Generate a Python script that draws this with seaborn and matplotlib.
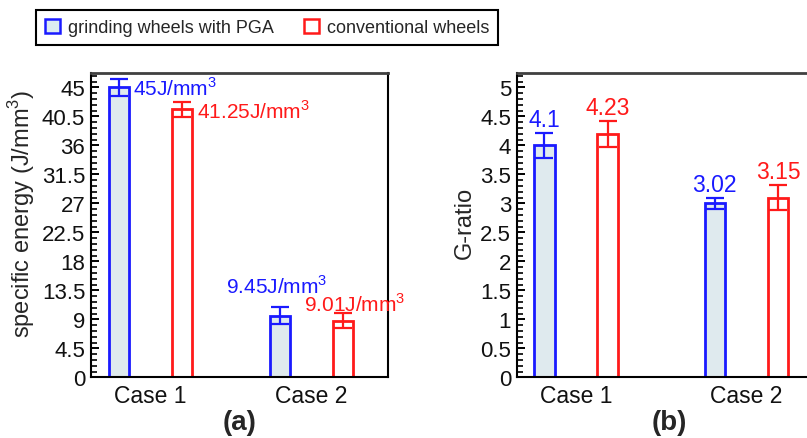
import matplotlib
matplotlib.use("Agg")
import matplotlib.pyplot as plt
from matplotlib.patches import Patch
from matplotlib.ticker import AutoMinorLocator
import seaborn as sns
import pandas as pd

sns.set_theme(style="white")
plt.rcParams['font.family'] = ['Liberation Sans', 'DejaVu Sans']
plt.rcParams['mathtext.fontset'] = 'custom'
plt.rcParams['mathtext.rm'] = 'Liberation Sans'

# ---------------- data ----------------
cases = ["Case 1", "Case 2"]
series = ["grinding wheels with PGA", "conventional wheels"]

energy_pga = [45.0, 9.55]
energy_conv = [41.6, 8.8]
energy_err_pga = [1.3, 1.35]
energy_err_conv = [1.2, 1.2]
energy_labels_pga = ["45J/mm$^3$", "9.45J/mm$^3$"]
energy_labels_conv = ["41.25J/mm$^3$", "9.01J/mm$^3$"]

gratio_pga = [4.0, 3.0]
gratio_conv = [4.2, 3.1]
gratio_err_pga = [0.22, 0.1]
gratio_err_conv = [0.22, 0.22]
gratio_labels_pga = ["4.1", "3.02"]
gratio_labels_conv = ["4.23", "3.15"]

energy_ticks = [0, 4.5, 9, 13.5, 18, 22.5, 27, 31.5, 36, 40.5, 45]
gratio_ticks = [0, 0.5, 1, 1.5, 2, 2.5, 3, 3.5, 4, 4.5, 5]

BLUE = "#1a1aff"
RED = "#ff1a1a"
FILL_PGA = "#dcebf1"
FILL_CONV = "#ffffff"
edge_colors = [BLUE, RED]
fills = {series[0]: FILL_PGA, series[1]: FILL_CONV}

df_e = pd.DataFrame({"case": cases * 2,
                     "series": [series[0]] * 2 + [series[1]] * 2,
                     "value": energy_pga + energy_conv})
df_g = pd.DataFrame({"case": cases * 2,
                     "series": [series[0]] * 2 + [series[1]] * 2,
                     "value": gratio_pga + gratio_conv})

W, H = 807, 439
fig = plt.figure(figsize=(W / 100, H / 100), dpi=100)
axL = fig.add_axes([90.7 / W, (H - 378.3) / H, 297 / W, 304.3 / H])
axR = fig.add_axes([516.7 / W, (H - 378.3) / H, 300 / W, 304.3 / H])


def draw(ax, df, errs, width, gap):
    sns.barplot(data=df, x="case", y="value", hue="series", order=cases,
                hue_order=series, palette=fills, width=width, gap=gap,
                errorbar=None, legend=False, ax=ax, linewidth=2)
    for cont, col, err in zip(ax.containers, edge_colors, errs):
        xs, hs = [], []
        for p in cont:
            p.set_edgecolor(col)
            p.set_linewidth(2)
            xs.append(p.get_x() + p.get_width() / 2)
            hs.append(p.get_height())
        ax.errorbar(xs, hs, yerr=err, fmt="none", ecolor=col,
                    elinewidth=1.6, capsize=6.5, capthick=1.6, zorder=5)


def style(ax, ticks, ymax, ylabel, label_xy):
    ax.set_ylim(0, ymax)
    ax.set_yticks(ticks)
    ax.set_yticklabels([f"{t:g}" for t in ticks])
    ax.yaxis.set_minor_locator(AutoMinorLocator(5))
    ax.tick_params(axis="y", which="major", direction="in", length=6,
                   width=1.4, color="black", labelsize=16, pad=4, left=True)
    ax.tick_params(axis="y", which="minor", direction="in", length=4,
                   width=1.2, color="black", left=True)
    ax.tick_params(axis="x", length=0, labelsize=16.5, pad=5)
    ax.set_xlabel("")
    ax.set_ylabel(ylabel, fontsize=17)
    ax.yaxis.set_label_coords(*label_xy)
    for s in ax.spines.values():
        s.set_color("black")
        s.set_linewidth(1.5)
        s.set_visible(True)
    ax.spines["top"].set_color("#404040")
    ax.spines["top"].set_linewidth(2)
    for lab in ax.get_xticklabels() + ax.get_yticklabels():
        lab.set_color("#111111")


# ---- panel (a) ----
draw(axL, df_e, [energy_err_pga, energy_err_conv], 0.784, 0.68)
axL.set_xlim(-0.373, 1.475)
style(axL, energy_ticks, 47.25, "specific energy (J/mm$^3$)", (-0.181, 0.5416))

pL, cL = axL.containers[0], axL.containers[1]
p = pL[0]
axL.annotate(energy_labels_pga[0], xy=(p.get_x() + p.get_width(), p.get_height()),
             xytext=(4, -7), textcoords="offset pixels", ha="left", va="baseline",
             color=BLUE, fontsize=15)
p = cL[0]
axL.annotate(energy_labels_conv[0], xy=(p.get_x() + p.get_width(), p.get_height()),
             xytext=(5, -8), textcoords="offset pixels", ha="left", va="baseline",
             color=RED, fontsize=15)
p = pL[1]
axL.annotate(energy_labels_pga[1],
             xy=(p.get_x() + p.get_width() / 2, p.get_height() + energy_err_pga[1]),
             xytext=(-3, 14), textcoords="offset pixels", ha="center", va="baseline",
             color=BLUE, fontsize=15)
p = cL[1]
axL.annotate(energy_labels_conv[1],
             xy=(p.get_x() + p.get_width() / 2, p.get_height() + energy_err_conv[1]),
             xytext=(-39, 2), textcoords="offset pixels", ha="left", va="baseline",
             color=RED, fontsize=15, annotation_clip=False)

# ---- panel (b) ----
draw(axR, df_g, [gratio_err_pga, gratio_err_conv], 0.742, 0.676)
axR.set_xlim(-0.348, 1.413)
style(axR, gratio_ticks, 5.25, "G-ratio", (-0.135, 0.510))

for cont, labels, errs, col in zip(axR.containers,
                                   [gratio_labels_pga, gratio_labels_conv],
                                   [gratio_err_pga, gratio_err_conv], edge_colors):
    for p, lab, e in zip(cont, labels, errs):
        axR.annotate(lab, xy=(p.get_x() + p.get_width() / 2, p.get_height() + e),
                     xytext=(0, 7), textcoords="offset pixels", ha="center",
                     va="baseline", color=col, fontsize=16.5)

fig.text(240 / W, 1 - 423 / H, "(a)", ha="center", va="center",
         fontsize=20, fontweight="bold")
fig.text(669 / W, 1 - 423 / H, "(b)", ha="center", va="center",
         fontsize=20, fontweight="bold")

handles = [Patch(facecolor=FILL_PGA, edgecolor=BLUE, linewidth=1.8),
           Patch(facecolor=FILL_CONV, edgecolor=RED, linewidth=1.8)]
leg = fig.legend(handles, series, ncol=2, loc="center",
                 bbox_to_anchor=(267 / W, 1 - 28.3 / H), fontsize=13,
                 frameon=True, fancybox=False, framealpha=1, edgecolor="black",
                 handlelength=0.85, handleheight=0.85, handletextpad=0.4,
                 columnspacing=1.7, borderpad=0.5, borderaxespad=0)
leg.get_frame().set_linewidth(1.5)

fig.savefig("out.png", dpi=100)
